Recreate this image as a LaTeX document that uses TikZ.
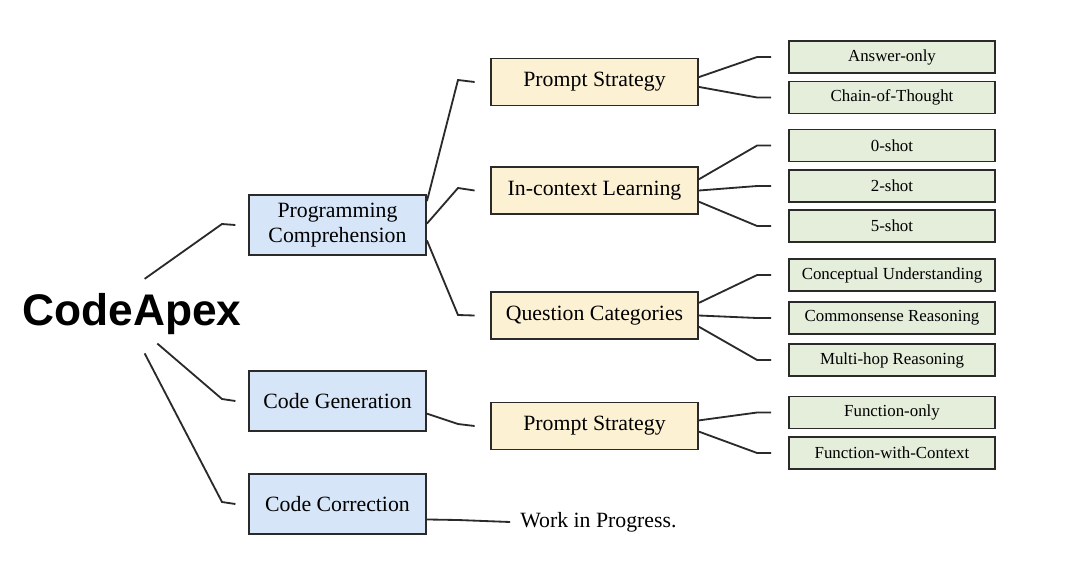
\documentclass[tikz,border=0pt]{standalone}
\usepackage{fontspec}
\setmainfont{Liberation Serif}
\newfontfamily\rootfont{Liberation Sans}
\definecolor{lvlone}{HTML}{D7E5F8}
\definecolor{lvltwo}{HTML}{FDF1D4}
\definecolor{lvlthree}{HTML}{E4EEDB}
\definecolor{edge}{HTML}{2A2A2A}
\tikzset{
  box/.style={draw=edge,line width=1.3pt,align=center,inner sep=2pt},
  blue box/.style={box,fill=lvlone,minimum width=4.425cm,minimum height=1.5cm,font=\fontsize{15.5}{18}\selectfont},
  yellow box/.style={box,fill=lvltwo,minimum width=5.175cm,minimum height=1.175cm,font=\fontsize{15.5}{18}\selectfont},
  green box/.style={box,fill=lvlthree,minimum width=5.15cm,minimum height=0.8cm,font=\fontsize{12}{14}\selectfont},
  link/.style={line width=1.3pt,edge}
}
\begin{document}
\begin{tikzpicture}[x=0.025cm,y=-0.025cm]
  \useasboundingbox (0,0) rectangle (1080,581);
  \node[font=\rootfont\bfseries\fontsize{31.5}{34}\selectfont,inner sep=0] (root) at (132,314) {CodeApex};

  % first level
  \node[blue box] (pc) at (337.5,225) {Programming\\Comprehension};
  \node[blue box] (cg) at (337.5,401) {Code Generation};
  \node[blue box] (cc) at (337.5,504) {Code Correction};

  % second level
  \node[yellow box] (ps1) at (594.5,82) {Prompt Strategy};
  \node[yellow box] (icl) at (594.5,190.5) {In-context Learning};
  \node[yellow box] (qc) at (594.5,315.5) {Question Categories};
  \node[yellow box] (ps2) at (594.5,426) {Prompt Strategy};
  \node[anchor=west,font=\fontsize{15.5}{18}\selectfont,inner sep=0] (wip) at (520,522) {Work in Progress.};

  % third level
  \node[green box] (ao) at (892,57) {Answer-only};
  \node[green box] (cot) at (892,97.5) {Chain-of-Thought};
  \node[green box] (s0) at (892,145.5) {0-shot};
  \node[green box] (s2) at (892,186) {2-shot};
  \node[green box] (s5) at (892,226) {5-shot};
  \node[green box] (cu) at (892,275) {Conceptual Understanding};
  \node[green box] (cr) at (892,318) {Commonsense Reasoning};
  \node[green box] (mr) at (892,360) {Multi-hop Reasoning};
  \node[green box] (fo) at (892,412.5) {Function-only};
  \node[green box] (fc) at (892,453) {Function-with-Context};

  % connectors
  \draw[link] ([xshift=9pt,yshift=25pt]root.center) -- (222,224) -- ([xshift=-9pt]pc.west);
  \draw[link] ([xshift=18pt,yshift=-21pt]root.center) -- (222,399) -- ([xshift=-9pt]cg.west);
  \draw[link] ([xshift=9pt,yshift=-28pt]root.center) -- (222,502) -- ([xshift=-9pt]cc.west);

  \draw[link] ([yshift=17pt]pc.east) -- (458,80) -- ([xshift=-11pt]ps1.west);
  \draw[link] ([yshift=1pt]pc.east) -- (458,188) -- ([xshift=-11pt]icl.west);
  \draw[link] ([yshift=-11pt]pc.east) -- (458,315) -- ([xshift=-11pt]qc.west);
  \draw[link] ([yshift=-9pt]cg.east) -- (458,424) -- ([xshift=-11pt]ps2.west);
  \draw[link] ([yshift=-11pt]cc.east) -- (458,520) -- ([xshift=-7pt]wip.west);

  \foreach \src/\dy/\dst in {ps1/3.5/ao, ps1/-3.5/cot, icl/8/s0, icl/0/s2, icl/-8/s5,
                             qc/9/cu, qc/0/cr, qc/-8/mr, ps2/4/fo, ps2/-4/fc}
    \draw[link] ([yshift=\dy pt]\src.east) -- ([xshift=-22pt]\dst.west) -- ([xshift=-12pt]\dst.west);
\end{tikzpicture}
\end{document}
